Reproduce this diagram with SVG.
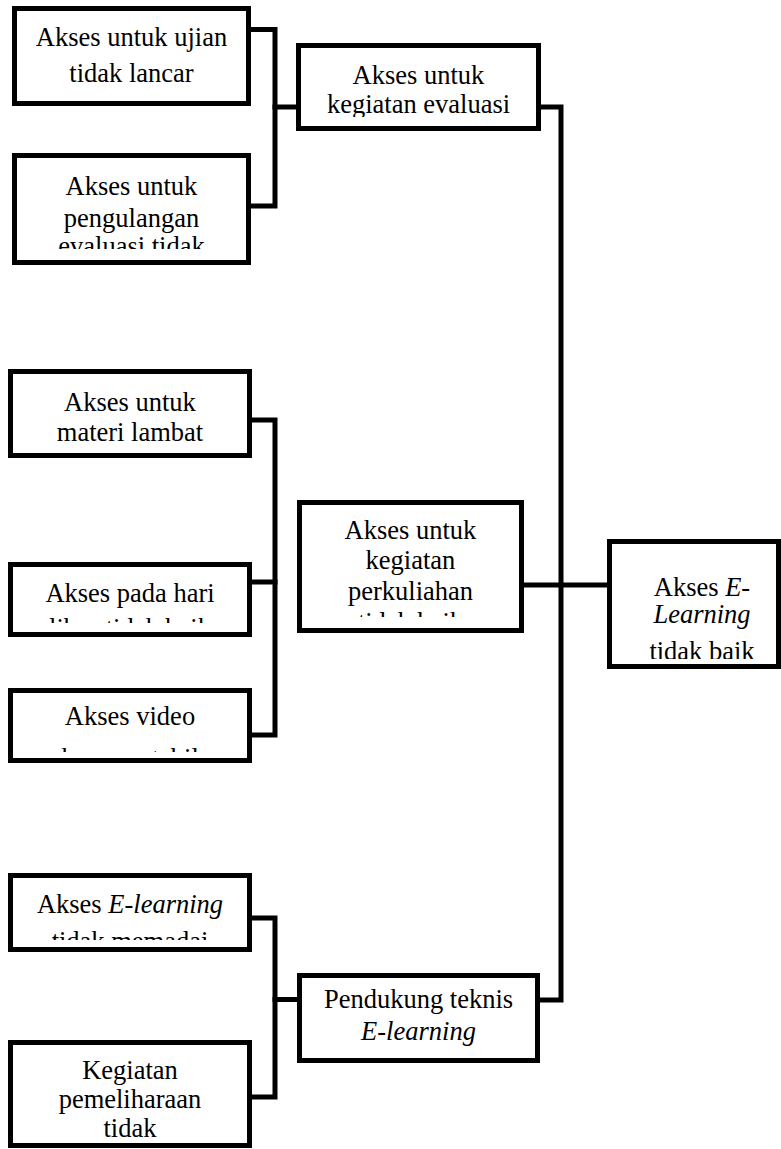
<svg xmlns="http://www.w3.org/2000/svg" width="781" height="1149" viewBox="0 0 781 1149">
  <style>
    .box { fill: #ffffff; stroke: #000000; stroke-width: 5; }
    .link { fill: none; stroke: #000000; stroke-width: 5; stroke-linejoin: miter; stroke-linecap: square; }
    .lbl { font-family: "Liberation Serif", "Times New Roman", serif; font-size: 26.5px; fill: #000000; text-anchor: middle; }
    .it { font-style: italic; }
  </style>
  <defs>
    <!-- each label is cut off by the inner margin of its box -->
    <clipPath id="clip-b2"><rect x="17" y="158" width="229" height="91"/></clipPath>
    <clipPath id="clip-b3"><rect x="301" y="48" width="235" height="69"/></clipPath>
    <clipPath id="clip-b5"><rect x="13" y="567" width="234" height="56"/></clipPath>
    <clipPath id="clip-b6"><rect x="13" y="693" width="234" height="59"/></clipPath>
    <clipPath id="clip-b7"><rect x="302" y="505" width="217" height="112"/></clipPath>
    <clipPath id="clip-b8"><rect x="612" y="544" width="164" height="115"/></clipPath>
    <clipPath id="clip-b9"><rect x="13" y="878" width="234" height="62"/></clipPath>
    <clipPath id="clip-b10"><rect x="13" y="1045" width="234" height="93"/></clipPath>
    <clipPath id="clip-b11"><rect x="302" y="978" width="233" height="75"/></clipPath>
  </defs>

  <rect width="781" height="1149" fill="#ffffff"/>

  <!-- connectors -->
  <g id="connectors">
    <polyline class="link" points="251,29.5 275,29.5 275,206 251,206"/>
    <line class="link" x1="275" y1="107" x2="296" y2="107"/>
    <polyline class="link" points="541,107 561,107 561,1000 540,1000"/>
    <line class="link" x1="524" y1="585" x2="607" y2="585"/>
    <polyline class="link" points="252,420 275,420 275,735 252,735"/>
    <line class="link" x1="252" y1="582" x2="275" y2="582"/>
    <polyline class="link" points="252,918 275,918 275,1097 252,1097"/>
    <line class="link" x1="275" y1="999.5" x2="297" y2="999.5"/>
  </g>

  <g id="node-ujian">
    <rect class="box" x="14.5" y="8.5" width="234" height="95"/>
    <text class="lbl" x="131.5" y="46">Akses untuk ujian</text>
    <text class="lbl" x="131.5" y="82">tidak lancar</text>
  </g>

  <g id="node-pengulangan">
    <rect class="box" x="14.5" y="155.5" width="234" height="107"/>
    <g clip-path="url(#clip-b2)">
      <text class="lbl" x="131.5" y="195">Akses untuk</text>
      <text class="lbl" x="131.5" y="227">pengulangan</text>
      <text class="lbl" x="131.5" y="255">evaluasi tidak</text>
    </g>
  </g>

  <g id="node-evaluasi">
    <rect class="box" x="298.5" y="45.5" width="240" height="83"/>
    <g clip-path="url(#clip-b3)">
      <text class="lbl" x="418.5" y="84.3">Akses untuk</text>
      <text class="lbl" x="418.5" y="112.7">kegiatan evaluasi</text>
    </g>
  </g>

  <g id="node-materi">
    <rect class="box" x="10.5" y="371.5" width="239" height="84"/>
    <text class="lbl" x="130" y="410.7">Akses untuk</text>
    <text class="lbl" x="130" y="440.7">materi lambat</text>
  </g>

  <g id="node-hari">
    <rect class="box" x="10.5" y="564.5" width="239" height="70"/>
    <g clip-path="url(#clip-b5)">
      <text class="lbl" x="130" y="601.7">Akses pada hari</text>
      <text class="lbl" x="130" y="637">libur tidak baik</text>
    </g>
  </g>

  <g id="node-video">
    <rect class="box" x="10.5" y="690.5" width="239" height="70"/>
    <g clip-path="url(#clip-b6)">
      <text class="lbl" x="130" y="725">Akses video</text>
      <text class="lbl" x="130" y="767">kurang stabil</text>
    </g>
  </g>

  <g id="node-perkuliahan">
    <rect class="box" x="299.5" y="502.5" width="222" height="128"/>
    <g clip-path="url(#clip-b7)">
      <text class="lbl" x="410.5" y="539.3">Akses untuk</text>
      <text class="lbl" x="410.5" y="569.3">kegiatan</text>
      <text class="lbl" x="410.5" y="600">perkuliahan</text>
      <text class="lbl" x="410.5" y="631">tidak baik</text>
    </g>
  </g>

  <g id="node-root">
    <rect class="box" x="609.5" y="541.5" width="169" height="125"/>
    <g clip-path="url(#clip-b8)">
      <text class="lbl" x="702" y="596">Akses <tspan class="it">E-</tspan></text>
      <text class="lbl it" x="702" y="623.3">Learning</text>
      <text class="lbl" x="702" y="660">tidak baik</text>
    </g>
  </g>

  <g id="node-memadai">
    <rect class="box" x="10.5" y="875.5" width="239" height="74"/>
    <g clip-path="url(#clip-b9)">
      <text class="lbl" x="130" y="913.3">Akses <tspan class="it">E-learning</tspan></text>
      <text class="lbl" x="130" y="950">tidak memadai</text>
    </g>
  </g>

  <g id="node-pemeliharaan">
    <rect class="box" x="10.5" y="1042.5" width="239" height="103"/>
    <g clip-path="url(#clip-b10)">
      <text class="lbl" x="130" y="1079">Kegiatan</text>
      <text class="lbl" x="130" y="1108.3">pemeliharaan</text>
      <text class="lbl" x="130" y="1137">tidak</text>
    </g>
  </g>

  <g id="node-pendukung">
    <rect class="box" x="299.5" y="975.5" width="238" height="85"/>
    <g clip-path="url(#clip-b11)">
      <text class="lbl" x="418.5" y="1008">Pendukung teknis</text>
      <text class="lbl it" x="418.5" y="1040">E-learning</text>
    </g>
  </g>
</svg>
